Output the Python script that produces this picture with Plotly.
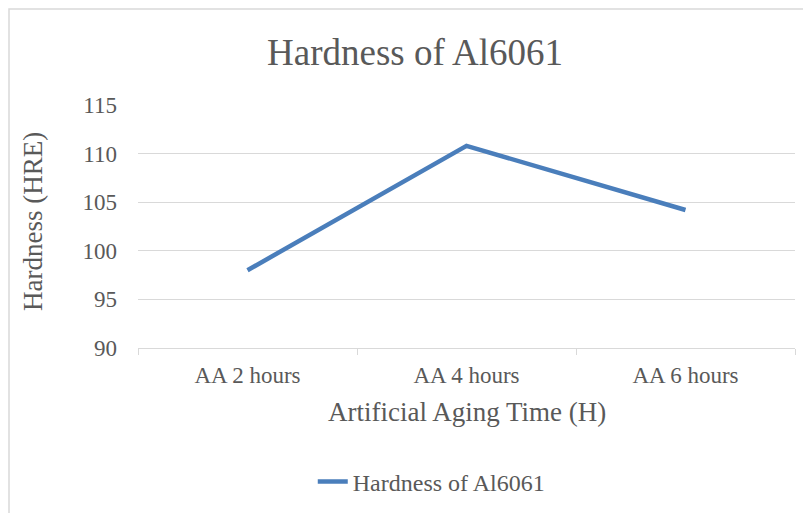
import plotly.graph_objects as go

categories = ["AA 2 hours", "AA 4 hours", "AA 6 hours"]
hardness = [98.0, 110.8, 104.2]
series_name = "Hardness of Al6061"
y_ticks = [90, 95, 100, 105, 110, 115]

FONT = "Liberation Serif, Times New Roman, serif"
TXT = "#595959"
GRID = "#d9d9d9"
OFF = 8  # page body margin offset

fig = go.Figure()
fig.add_trace(go.Scatter(
    x=categories, y=hardness, mode="lines", name=series_name,
    line=dict(color="#4A7EBB", width=4.5),
))

fig.update_layout(
    width=811, height=513,
    margin=dict(l=138 - OFF, r=811 - (795 - OFF), t=105 - OFF, b=513 - (348 - OFF), autoexpand=False),
    paper_bgcolor="white", plot_bgcolor="white",
    font=dict(family=FONT, color=TXT, size=23),
    title=dict(text="Hardness of Al6061", x=(415 - OFF) / 811, xanchor="center",
               y=1 - (52 - OFF) / 513, yanchor="middle", xref="container", yref="container",
               font=dict(size=37, color=TXT, family=FONT)),
    showlegend=True,
    legend=dict(orientation="h", x=0.266, xanchor="left", y=-0.551, yanchor="middle",
                font=dict(size=24, color=TXT, family=FONT), bgcolor="rgba(0,0,0,0)"),
    xaxis=dict(
        type="category", range=[-0.5, 2.5], automargin=False,
        showgrid=False, showline=True, linecolor=GRID, linewidth=1.3,
        ticks="outside", tickson="boundaries", ticklen=6, tickcolor=GRID, tickwidth=1.3,
        tickfont=dict(size=23, color=TXT, family=FONT), ticklabelstandoff=6,
        zeroline=False, fixedrange=True,
    ),
    yaxis=dict(
        range=[90, 115], tickvals=y_ticks, automargin=False,
        showgrid=True, gridcolor=GRID, gridwidth=1.3,
        showline=False, zeroline=False, ticks="",
        tickfont=dict(size=23, color=TXT, family=FONT), ticklabelstandoff=20,
    ),
    annotations=[
        dict(text="Artificial Aging Time (H)", xref="paper", yref="paper",
             x=0.5, y=(348 - 412) / 243, xanchor="center", yanchor="middle", showarrow=False,
             font=dict(size=27, color=TXT, family=FONT)),
        dict(text="Hardness (HRE)", xref="paper", yref="paper",
             x=(33 - 138) / 657, y=(348 - 222) / 243, xanchor="center", yanchor="middle",
             textangle=-90, showarrow=False,
             font=dict(size=27, color=TXT, family=FONT)),
    ],
    shapes=[
        dict(type="rect", xref="paper", yref="paper",
             x0=(9 - 138) / 657, x1=(815 - 138) / 657, y0=(348 - 520) / 243, y1=(348 - 9) / 243,
             line=dict(color=GRID, width=1.5), fillcolor="rgba(0,0,0,0)", layer="below"),
    ],
)

fig.write_html("out.html")
